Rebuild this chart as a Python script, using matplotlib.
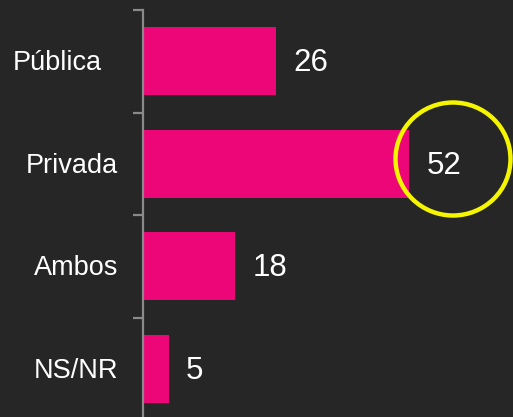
import matplotlib
matplotlib.use("Agg")
import matplotlib.pyplot as plt
from matplotlib.patches import Ellipse
import matplotlib.transforms as mtrans

categories = ["Pública", "Privada", "Ambos", "NS/NR"]
values = [26, 52, 18, 5]

BG = "#262626"
BAR = "#EC0677"
W, H = 513, 417

plt.rcParams['font.family'] = ['Liberation Sans', 'DejaVu Sans']

fig = plt.figure(figsize=(W / 100, H / 100), dpi=100, facecolor=BG)
ax_left = 143 / W
ax_top = 10 / H
ax_bottom = 420 / H
ax = fig.add_axes([ax_left, 1 - ax_bottom, 1 - ax_left, (ax_bottom - ax_top)])
ax.set_facecolor(BG)

y = list(range(len(categories)))
ax.barh(y, values, height=0.66, color=BAR, edgecolor="none")
ax.set_ylim(len(categories) - 0.5, -0.5)
xmax = (W - 143) / 5.12
ax.set_xlim(0, xmax)

for s in ["top", "right", "bottom"]:
    ax.spines[s].set_visible(False)
ax.spines["left"].set_color("#8a8a8a")
ax.spines["left"].set_linewidth(1.6)
ax.set_xticks([])
ax.set_yticks([])
ax.set_yticks([i - 0.5 for i in range(len(categories) + 1)], minor=True)
ax.tick_params(axis="y", which="minor", length=7, width=1.6, color="#8a8a8a", labelleft=False)

for i, (c, v) in enumerate(zip(categories, values)):
    dx = -41 if i == 0 else -25
    tr = mtrans.blended_transform_factory(ax.transAxes, ax.transData) + mtrans.ScaledTranslation(dx / 100, -2 / 100, fig.dpi_scale_trans)
    ax.text(0, i, c, transform=tr, ha="right", va="center", color="white", fontsize=19.5)
    tr2 = ax.transData + mtrans.ScaledTranslation(17 / 100, -2 / 100, fig.dpi_scale_trans)
    ax.text(v, i, str(v), transform=tr2, ha="left", va="center", color="white", fontsize=22.5)

ell = Ellipse((453 / W, 1 - 159 / H), 115 / W, 113 / H, transform=fig.transFigure,
              fill=False, edgecolor="#F5F500", linewidth=3.2)
fig.add_artist(ell)

fig.savefig("out.png", dpi=100, facecolor=BG)
